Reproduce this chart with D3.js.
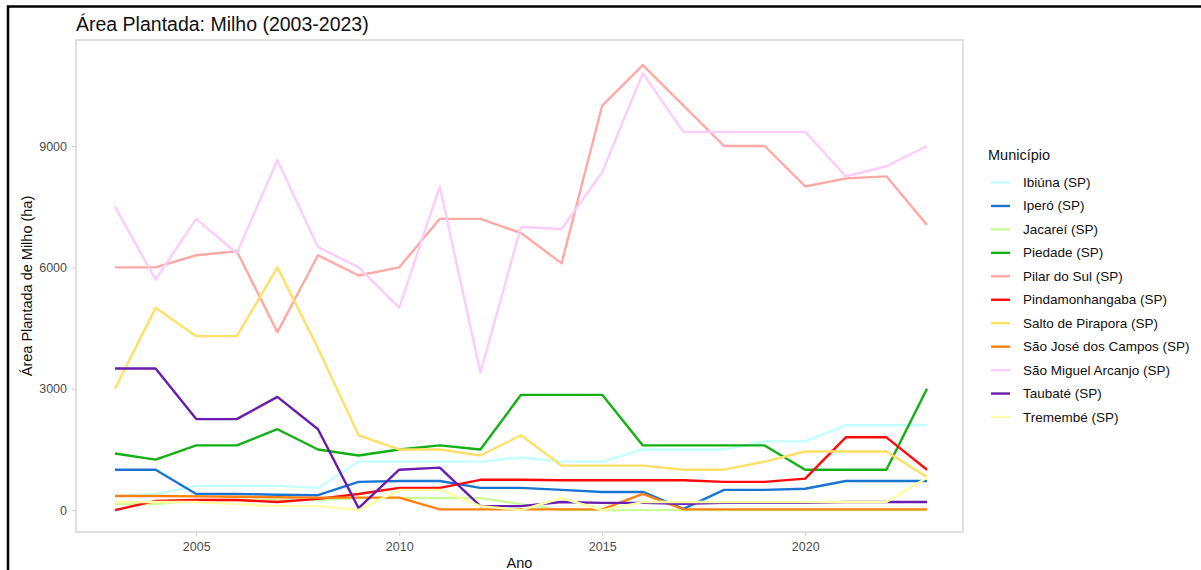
<!DOCTYPE html>
<html lang="pt">
	<head>
		<meta charset="utf-8">
		<title>Área Plantada: Milho (2003-2023)</title>
		<script type="text/javascript" src="https://cdn.jsdelivr.net/npm/d3@7"></script>
		<style type="text/css">
			body { margin: 0; background: #fff; }
			svg { display: block; font-family: "Liberation Sans", Arial, sans-serif; }
		</style>
	</head>
	<body>
		<script type="text/javascript">

			//Data
			var years = d3.range(2003, 2024);

			var municipios = ["Ibiúna (SP)", "Iperó (SP)", "Jacareí (SP)", "Piedade (SP)", "Pilar do Sul (SP)",
							"Pindamonhangaba (SP)", "Salto de Pirapora (SP)", "São José dos Campos (SP)",
							"São Miguel Arcanjo (SP)", "Taubaté (SP)", "Tremembé (SP)"];

			var cores = ["#c4ffff", "#1a74d2", "#ccf99c", "#12b012", "#ffa9a6",
						"#ff0a0a", "#ffe066", "#ff8010", "#fccdfc", "#6a1bb0", "#ffffa6"];

			var ibiuna      = [350, 400, 600, 600, 600, 550, 1200, 1200, 1200, 1200, 1300, 1200, 1200, 1500, 1500, 1500, 1700, 1700, 2100, 2100, 2100];
			var ipero       = [1000, 1000, 400, 400, 380, 370, 700, 720, 720, 550, 550, 500, 450, 450, 30, 500, 500, 530, 720, 720, 720];
			var jacarei     = [150, 150, 250, 250, 250, 250, 300, 300, 300, 300, 150, 0, 0, 0, 0, 0, 0, 0, 0, 0, 0];
			var piedade     = [1400, 1250, 1600, 1600, 2000, 1500, 1350, 1500, 1600, 1500, 2850, 2850, 2850, 1600, 1600, 1600, 1600, 1000, 1000, 1000, 3000];
			var pilar       = [6000, 6000, 6300, 6400, 4400, 6300, 5800, 6000, 7200, 7200, 6850, 6100, 10000, 11000, 10000, 9000, 9000, 8000, 8200, 8250, 7050];
			var pinda       = [0, 230, 250, 250, 200, 280, 400, 550, 550, 750, 750, 740, 740, 740, 740, 700, 700, 780, 1800, 1800, 1000];
			var salto       = [3000, 5000, 4300, 4300, 6000, 4000, 1850, 1500, 1500, 1350, 1850, 1100, 1100, 1100, 1000, 1000, 1200, 1450, 1450, 1450, 820];
			var sjc         = [350, 350, 340, 330, 320, 310, 310, 310, 20, 20, 20, 20, 20, 400, 20, 20, 20, 20, 20, 20, 20];
			var saoMiguel   = [7500, 5700, 7200, 6350, 8650, 6500, 6000, 5000, 8000, 3400, 7000, 6950, 8350, 10800, 9350, 9350, 9350, 9350, 8250, 8500, 9000];
			var taubate     = [3500, 3500, 2250, 2250, 2800, 2000, 50, 1000, 1050, 100, 100, 200, 180, 180, 160, 180, 180, 180, 200, 200, 200];
			var tremembe    = [200, 200, 200, 150, 100, 100, 0, 500, 500, 100, 0, 300, 0, 200, 200, 200, 200, 200, 200, 200, 800];

			var valores = [ibiuna, ipero, jacarei, piedade, pilar, pinda, salto, sjc, saoMiguel, taubate, tremembe];

			var yTicks = [0, 3000, 6000, 9000];
			var xTicks = [2005, 2010, 2015, 2020];

			//Width and height
			var w = 1201;
			var h = 570;

			var panel = { left: 76, right: 963, top: 40, bottom: 532 };

			var xScale = d3.scaleLinear()
							.domain([2003, 2023])
							.range([115, 927]);

			var yScale = d3.scaleLinear()
							.domain([-540, 11620])
							.range([panel.bottom, panel.top]);

			var svg = d3.select("body")
						.append("svg")
						.attr("width", w)
						.attr("height", h);

			//Page frame
			svg.append("path")
			   .attr("d", "M8,570 V6.5 H1201")
			   .attr("fill", "none")
			   .attr("stroke", "#000")
			   .attr("stroke-width", 2.5);

			//Title
			svg.append("text")
			   .attr("x", 76)
			   .attr("y", 31)
			   .attr("font-size", "19.5px")
			   .attr("fill", "#111")
			   .text("Área Plantada: Milho (2003-2023)");

			//Panel border
			svg.append("rect")
			   .attr("x", panel.left)
			   .attr("y", panel.top)
			   .attr("width", panel.right - panel.left)
			   .attr("height", panel.bottom - panel.top)
			   .attr("fill", "none")
			   .attr("stroke", "#d6d6d6")
			   .attr("stroke-width", 1.5);

			//Axes
			var xAxis = d3.axisBottom(xScale)
							.tickValues(xTicks)
							.tickFormat(d3.format("d"))
							.tickSize(4)
							.tickPadding(6);

			var yAxis = d3.axisLeft(yScale)
							.tickValues(yTicks)
							.tickFormat(d3.format("d"))
							.tickSize(4)
							.tickPadding(5);

			var gx = svg.append("g")
						.attr("transform", "translate(0," + panel.bottom + ")")
						.call(xAxis);

			var gy = svg.append("g")
						.attr("transform", "translate(" + panel.left + ",0)")
						.call(yAxis);

			[gx, gy].forEach(function(g) {
				g.select(".domain").remove();
				g.selectAll(".tick line").attr("stroke", "#cfcfcf");
				g.selectAll(".tick text")
				 .attr("fill", "#4d4d4d")
				 .attr("font-size", "12.5px")
				 .attr("font-family", "Liberation Sans, Arial, sans-serif");
			});

			//Axis titles
			svg.append("text")
			   .attr("x", (panel.left + panel.right) / 2)
			   .attr("y", 568)
			   .attr("text-anchor", "middle")
			   .attr("font-size", "14.5px")
			   .attr("fill", "#111")
			   .text("Ano");

			svg.append("text")
			   .attr("transform", "translate(32," + ((panel.top + panel.bottom) / 2) + ") rotate(-90)")
			   .attr("text-anchor", "middle")
			   .attr("font-size", "14.5px")
			   .attr("fill", "#111")
			   .text("Área Plantada de Milho (ha)");

			//Lines
			var line = d3.line()
						.x(function(d, i) { return xScale(years[i]); })
						.y(function(d) { return yScale(d); });

			svg.append("g")
			   .selectAll("path")
			   .data(valores)
			   .enter()
			   .append("path")
			   .attr("d", line)
			   .attr("fill", "none")
			   .attr("stroke", function(d, i) { return cores[i]; })
			   .attr("stroke-width", 2.4)
			   .attr("stroke-linejoin", "round");

			//Legend
			var legend = svg.append("g");

			legend.append("text")
				  .attr("x", 988)
				  .attr("y", 160)
				  .attr("font-size", "14.5px")
				  .attr("fill", "#111")
				  .text("Município");

			var item = legend.selectAll("g.item")
							 .data(municipios)
							 .enter()
							 .append("g")
							 .attr("class", "item")
							 .attr("transform", function(d, i) {
							 	return "translate(0," + (182.5 + i * 23.45) + ")";
							 });

			item.append("line")
				.attr("x1", 991)
				.attr("x2", 1010)
				.attr("stroke", function(d, i) { return cores[i]; })
				.attr("stroke-width", 2.4);

			item.append("text")
				.attr("x", 1023)
				.attr("y", 4.5)
				.attr("font-size", "13.5px")
				.attr("fill", "#111")
				.text(function(d) { return d; });

		</script>
	</body>
</html>
